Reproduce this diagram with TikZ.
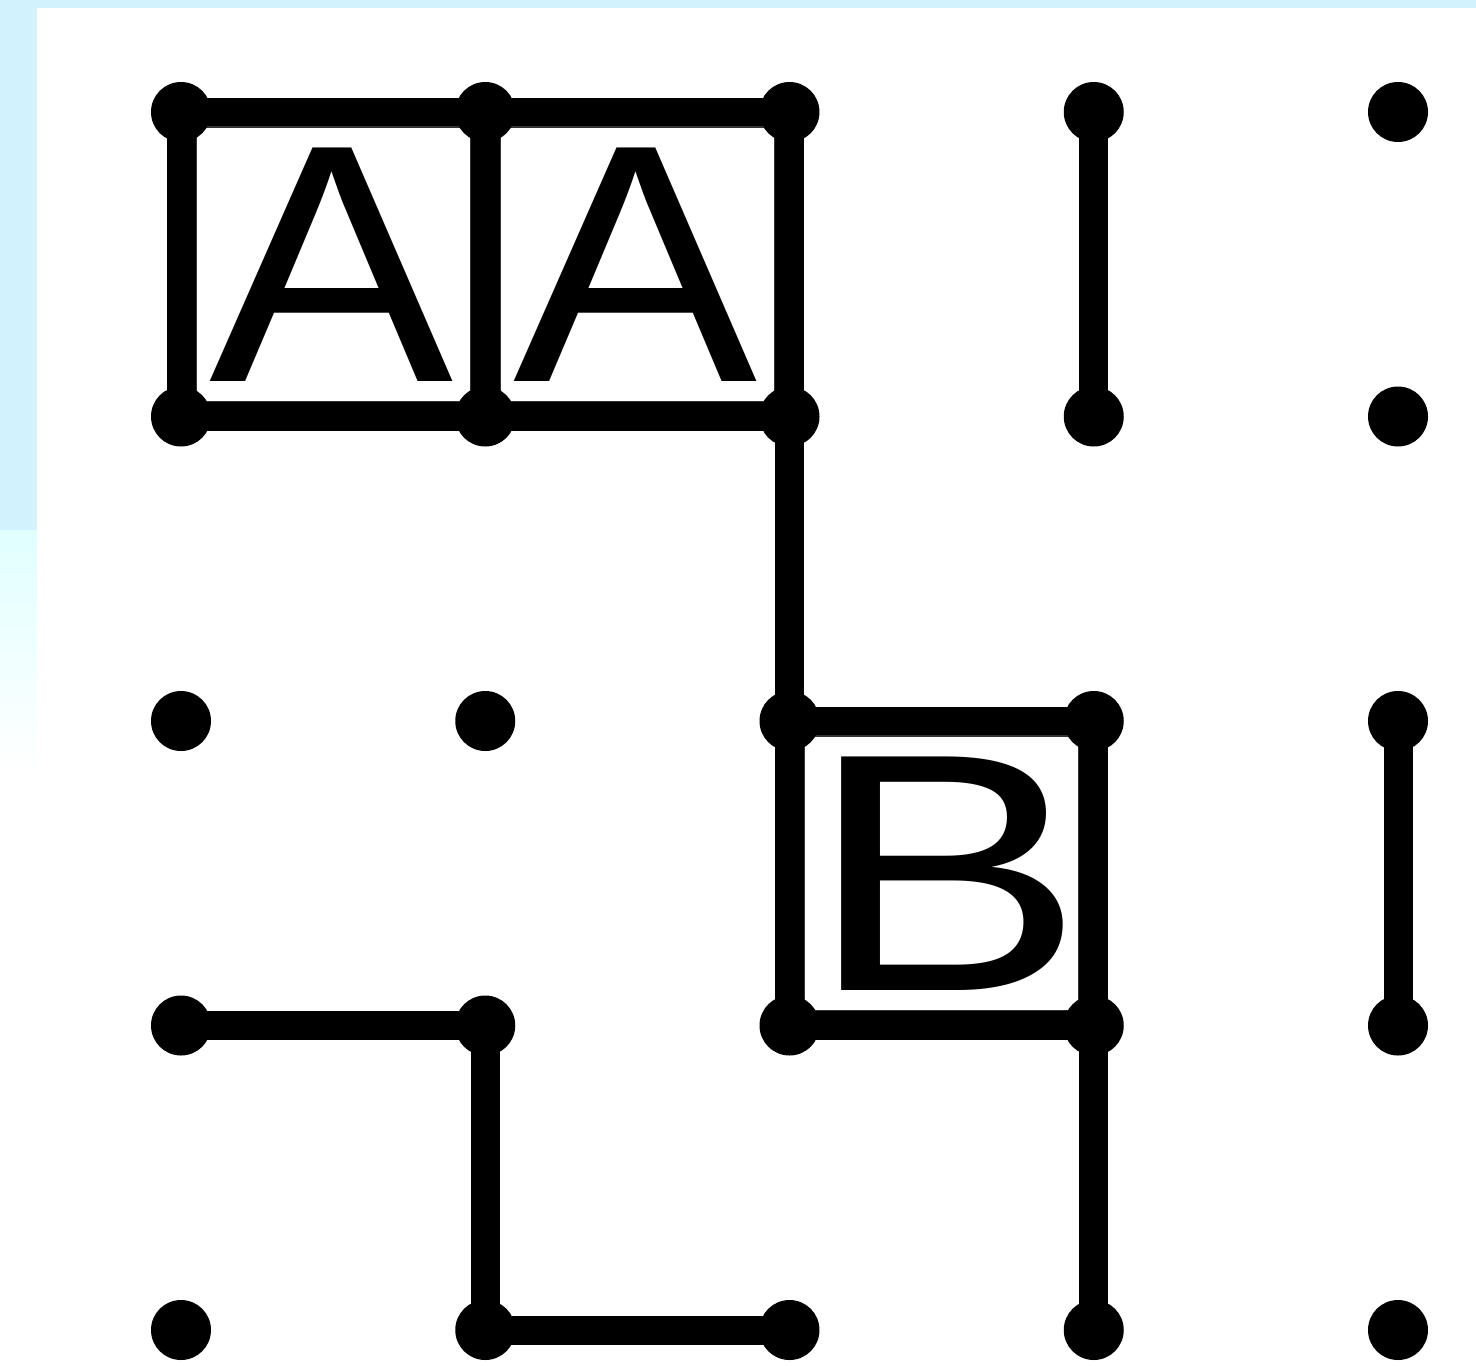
\documentclass[tikz,border=0pt]{standalone}
\usepackage{fontspec}
\setmainfont{Liberation Sans}
\usepackage{graphicx}
\pgfdeclarelayer{bg}
\pgfsetlayers{bg,main}
\definecolor{skyedge}{RGB}{210,243,253}
\definecolor{skylight}{RGB}{224,255,255}
\tikzset{
  dot/.style={circle, fill=black, inner sep=0pt, minimum size=60pt},
  edge/.style={line width=29pt, black},
  cellbox/.style={draw=black!80, line width=1.2pt, inner sep=0pt,
    minimum width=274pt, minimum height=274.5pt,
    font=\fontsize{339.5}{340}\selectfont},
}
\begin{document}
\begin{tikzpicture}[x=1pt,y=-1pt]
\useasboundingbox (0,0) rectangle (1476,1366);
\begin{pgfonlayer}{bg}
  \fill[white] (0,0) rectangle (1476,1366);
  \fill[skyedge] (0,0) rectangle (1476,8);
  \fill[skyedge] (0,0) rectangle (37,530);
  \shade[top color=skylight, bottom color=white] (0,530) rectangle (37,770);
\end{pgfonlayer}

% lettered cells (drawn first so that the dots cover their corners)
\node[cellbox] (A1) at (333.1,264.25) {\makebox[0pt]{\hspace*{-4pt}\scalebox{1.078}[1]{A}}};
\node[cellbox] (A2) at (637.4,264.25) {\makebox[0pt]{\hspace*{-3pt}\scalebox{1.078}[1]{A}}};
\node[cellbox] (B1) at (941.6,873.25) {\makebox[0pt]{\hspace*{9.6pt}\scalebox{1.226}[1]{B}}};

% grid dots
\foreach \i in {0,...,4}{
  \foreach \j in {0,...,4}{
    \node[dot] (p\i\j) at ({181+304.25*\i},{112+304.5*\j}) {};
  }
}

\begin{pgfonlayer}{bg}
  \draw[edge] (p00.center) -- (p10.center);
  \draw[edge] (p10.center) -- (p20.center);
  \draw[edge] (p01.center) -- (p11.center);
  \draw[edge] (p11.center) -- (p21.center);
  \draw[edge] (p00.center) -- (p01.center);
  \draw[edge] (p10.center) -- (p11.center);
  \draw[edge] (p20.center) -- (p21.center);
  \draw[edge] (p30.center) -- (p31.center);
  \draw[edge] (p21.center) -- (p22.center);
  \draw[edge] (p22.center) -- (p32.center);
  \draw[edge] (p23.center) -- (p33.center);
  \draw[edge] (p22.center) -- (p23.center);
  \draw[edge] (p32.center) -- (p33.center);
  \draw[edge] (p42.center) -- (p43.center);
  \draw[edge] (p03.center) -- (p13.center);
  \draw[edge] (p13.center) -- (p14.center);
  \draw[edge] (p14.center) -- (p24.center);
  \draw[edge] (p33.center) -- (p34.center);
\end{pgfonlayer}
\end{tikzpicture}
\end{document}
